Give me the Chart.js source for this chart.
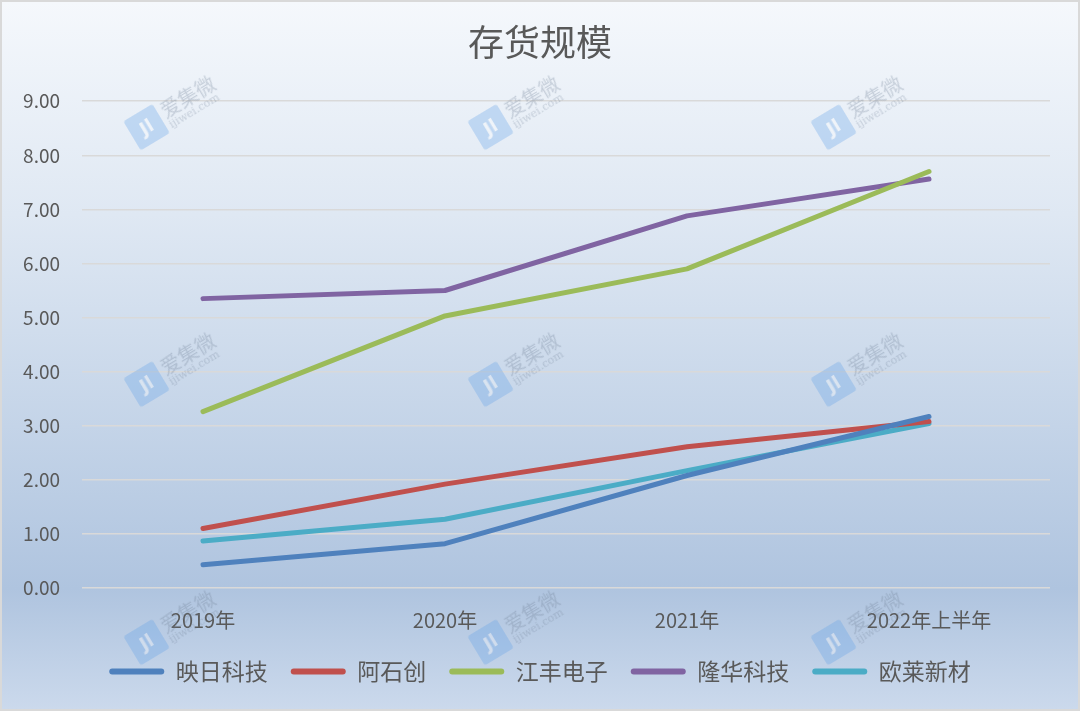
<!DOCTYPE html>
<html>
<head>
<meta charset="utf-8">
<script src="https://cdn.jsdelivr.net/npm/chart.js@4"></script>
<style>
  html, body { margin:0; padding:0; }
  body { width:1080px; height:711px; overflow:hidden; }
  #wrap { position:relative; width:1080px; height:711px; box-sizing:border-box;
    border:2px solid #d9d9d9;
    background: linear-gradient(to bottom, #f5f8fc 0%, #dfe8f3 30%, #c4d4e8 60%, #afc4df 83%, #cbd9ec 100%); }
  canvas { position:absolute; left:-2px; top:-2px; }
  .wm { position:absolute; height:34px; transform:rotate(-31deg); transform-origin:left center; opacity:0.3; pointer-events:none; white-space:nowrap; }
  .wm .ic { display:inline-block; width:34px; height:34px; background:#5ea0e6; border-radius:3px; color:#fff;
    font:bold 18px "DejaVu Sans"; text-align:center; line-height:34px; vertical-align:middle; }
  .wm .tx { display:inline-block; vertical-align:middle; margin-left:4px; color:#6f7f95; font-family:"Noto Sans CJK SC"; line-height:1; }
  .wm .tx b { display:block; font-size:20px; font-weight:400; }
  .wm .tx i { display:block; font-size:11px; font-style:normal; font-family:"DejaVu Serif"; }
</style>
</head>
<body>
<div id="wrap">
  <canvas id="c" width="1080" height="711"></canvas>
</div>
<script>
const categories = ["2019年", "2020年", "2021年", "2022年上半年"];
const seriesNames = ["映日科技", "阿石创", "江丰电子", "隆华科技", "欧莱新材"];
const yingri = [0.43, 0.82, 2.08, 3.17];
const ashichuang = [1.10, 1.92, 2.61, 3.08];
const jiangfeng = [3.26, 5.03, 5.90, 7.70];
const longhua = [5.35, 5.50, 6.88, 7.56];
const oulai = [0.87, 1.27, 2.17, 3.04];
const seriesColors = ["#4f81bd", "#c0504d", "#9bbb59", "#8064a2", "#4bacc6"];
const yTicks = [0, 1, 2, 3, 4, 5, 6, 7, 8, 9];

// watermarks (decorative)
const wmCols = [144, 488, 831];
const wmRows = [125, 382, 640];
const wrap = document.getElementById('wrap');
wmRows.forEach(r => wmCols.forEach(c => {
  const d = document.createElement('div');
  d.className = 'wm';
  d.style.left = (c - 14) + 'px';
  d.style.top = (r - 8) + 'px';
  d.innerHTML = '<span class="ic">Jl</span><span class="tx"><b>爱集微</b><i>ijiwei.com</i></span>';
  wrap.appendChild(d);
}));

const allData = [yingri, ashichuang, jiangfeng, longhua, oulai];
const font = '"Noto Sans CJK SC", "Noto Sans", sans-serif';

new Chart(document.getElementById('c'), {
  type: 'line',
  data: {
    labels: categories,
    datasets: allData.map((d, i) => ({
      label: seriesNames[i],
      data: d,
      borderColor: seriesColors[i],
      backgroundColor: seriesColors[i],
      borderWidth: 5,
      borderCapStyle: 'round',
      borderJoinStyle: 'round',
      pointRadius: 0,
      tension: 0,
      yAxisID: 'y'
    }))
  },
  options: {
    responsive: false,
    animation: false,
    layout: { padding: { left: 0, right: 0, top: 0, bottom: 18 } },
    plugins: {
      title: {
        display: true,
        text: '存货规模',
        color: '#595959',
        font: { family: font, size: 36, weight: '400' },
        padding: { top: 21, bottom: 37 }
      },
      legend: {
        position: 'bottom',
        labels: {
          color: '#595959',
          font: { family: font, size: 23 },
          boxWidth: 55,
          boxHeight: 6,
          useBorderRadius: true,
          borderRadius: 3,
          padding: 23,
          generateLabels: (chart) => chart.data.datasets.map((ds, i) => ({
            text: ds.label,
            fillStyle: ds.borderColor,
            strokeStyle: ds.borderColor,
            lineWidth: 0,
            fontColor: '#595959',
            borderRadius: 3,
            datasetIndex: i
          }))
        }
      },
      tooltip: { enabled: false }
    },
    scales: {
      x: {
        offset: true,
        afterFit: (s) => { s.height = 49; },
        grid: { display: false, drawTicks: false },
        border: { display: false },
        ticks: { color: '#595959', font: { family: font, size: 20 }, padding: 20, maxRotation: 0 }
      },
      y: {
        position: 'left',
        min: 0, max: 9,
        afterFit: (s) => { s.width = 82; },
        afterBuildTicks: (s) => { s.ticks = yTicks.map(v => ({ value: v })); },
        grid: { color: '#d9d9d9', lineWidth: 1.5, drawTicks: false },
        border: { display: false },
        ticks: { color: '#595959', font: { family: font, size: 19 }, padding: 22,
          callback: (v) => Number(v).toFixed(2) }
      },
      yRight: {
        position: 'right',
        min: 0, max: 9,
        afterFit: (s) => { s.width = 30; },
        grid: { display: false, drawTicks: false },
        border: { display: false },
        ticks: { display: false }
      }
    }
  }
});
</script>
</body>
</html>
